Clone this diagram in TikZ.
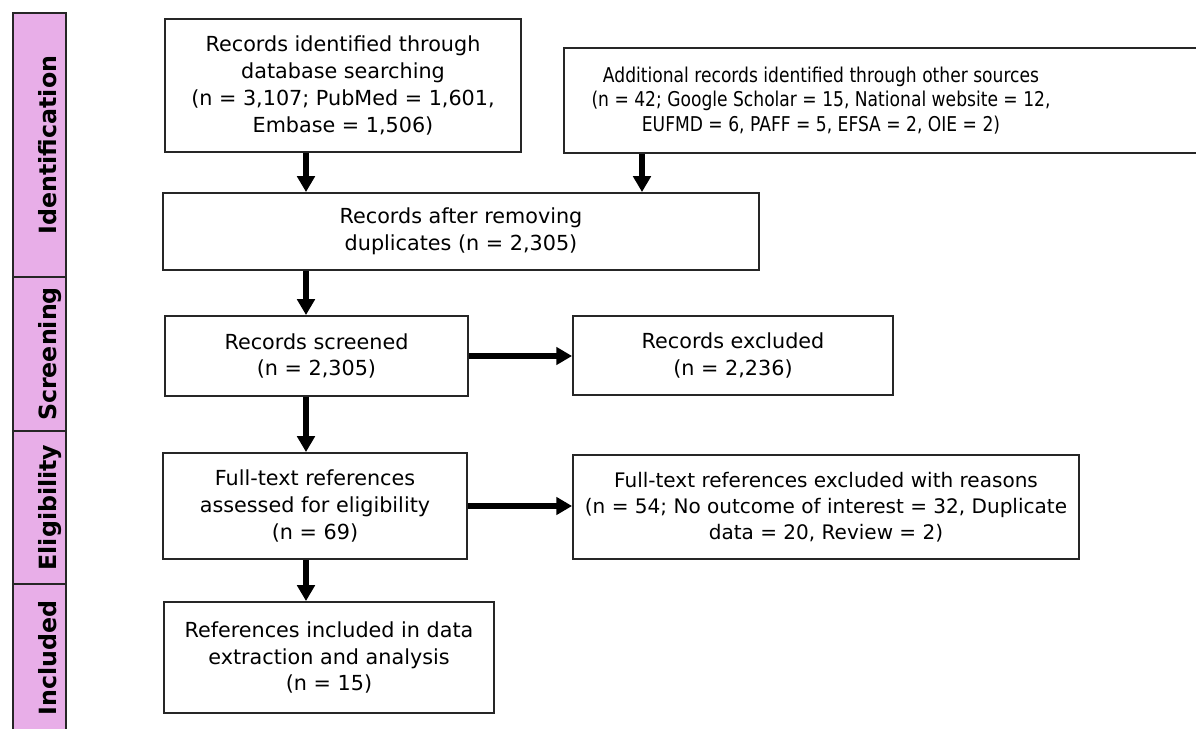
\documentclass[tikz,border=0pt]{standalone}
\usepackage{fontspec}
\setmainfont{DejaVu Sans}
\newfontfamily\narrowfont{DejaVu Sans}[FakeStretch=0.84]
\usetikzlibrary{arrows.meta}
\definecolor{phasepink}{RGB}{232,174,232}

\tikzset{
  box/.style={draw=black!85, line width=1.1pt, align=center, inner sep=0pt,
    font=\fontsize{11.8}{15.3}\selectfont},
  arr/.style={-{Triangle[width=9.8pt,length=9pt]}, line width=3pt},
  phase/.style={draw=black!85, line width=1pt, fill=phasepink},
  phaselabel/.style={rotate=90, text height=10.5pt, text depth=3pt,
    font=\fontsize{13.5}{16}\selectfont\bfseries},
}

\begin{document}
\begin{tikzpicture}[x=0.02cm, y=-0.02cm]
    \useasboundingbox (0,0) rectangle (1196,729);

    % phase bar
    \foreach \ytop/\ybot/\phasename in {13/277/Identification, 277/431/Screening, 431/584/Eligibility, 584/732/Included}{
        \draw[phase] (13,\ytop) rectangle (66,\ybot);
        \node[phaselabel] at (50,{(\ytop+\ybot)/2}) {\phasename};
    }

    % boxes
    \node[box, minimum width=7.12cm, minimum height=2.66cm] (db) at (343,85.5) {Records identified through\\database searching\\ (n = 3,107; PubMed = 1,601,\\Embase = 1,506)};
    \node[box, minimum width=12.72cm, minimum height=2.1cm] (other) at (882,100.5) {};
    \node[box, draw=none, font=\narrowfont\fontsize{11.6}{13.8}\selectfont] (othertext) at (821,100.5) {Additional records identified through other sources\\(n = 42; Google Scholar = 15, National website = 12,\\EUFMD = 6, PAFF = 5, EFSA = 2, OIE = 2)};
    \node[box, minimum width=11.92cm, minimum height=1.54cm] (dedup) at (461,231.5) {Records after removing\\duplicates (n = 2,305)};
    \node[box, minimum width=6.06cm, minimum height=1.6cm] (screen) at (316.5,356) {Records screened\\(n = 2,305)};
    \node[box, minimum width=6.4cm, minimum height=1.58cm] (excl) at (733,355.5) {Records excluded\\(n = 2,236)};
    \node[box, minimum width=6.08cm, minimum height=2.12cm] (full) at (315,506) {Full-text references\\assessed for eligibility\\(n = 69)};
    \node[box, minimum width=10.12cm, minimum height=2.08cm, font=\fontsize{11.4}{14.8}\selectfont] (fullex) at (826,507) {Full-text references excluded with reasons\\(n = 54; No outcome of interest = 32, Duplicate\\data = 20, Review = 2)};
    \node[box, minimum width=6.6cm, minimum height=2.22cm] (incl) at (329,657.5) {References included in data\\extraction and analysis\\(n = 15)};

    % arrows
    \coordinate (spine) at (306,0);
    \coordinate (sidearrow) at (642,0);
    \draw[arr] (db.south -| spine) -- (dedup.north -| spine);
    \draw[arr] (other.south -| sidearrow) -- (dedup.north -| sidearrow);
    \draw[arr] (dedup.south -| spine) -- (screen.north -| spine);
    \draw[arr] (screen.east) -- (screen.east -| excl.west);
    \draw[arr] (screen.south -| spine) -- (full.north -| spine);
    \draw[arr] (full.east) -- (full.east -| fullex.west);
    \draw[arr] (full.south -| spine) -- (incl.north -| spine);
\end{tikzpicture}
\end{document}
